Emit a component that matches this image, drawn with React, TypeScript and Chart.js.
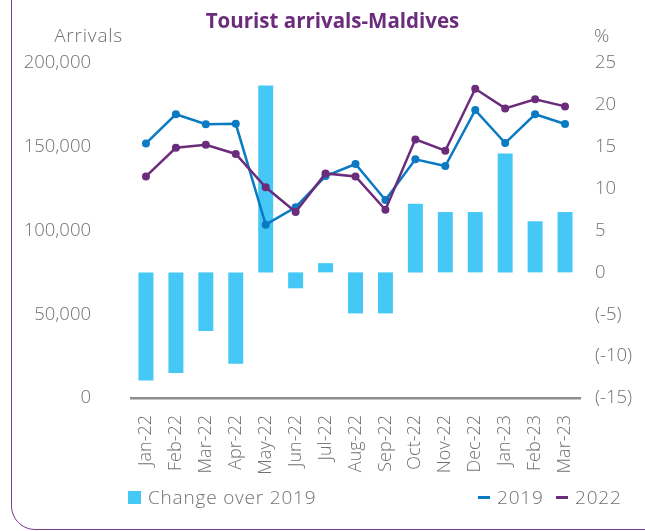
import React, { useEffect, useRef } from "react";
import { Chart, registerables } from "chart.js";
Chart.register(...registerables);

const categories = ["Jan-22", "Feb-22", "Mar-22", "Apr-22", "May-22", "Jun-22", "Jul-22", "Aug-22", "Sep-22", "Oct-22", "Nov-22", "Dec-22", "Jan-23", "Feb-23", "Mar-23"];
const changeOver2019 = [-12.9, -12.0, -7.0, -10.9, 22.3, -1.9, 1.1, -4.9, -4.9, 8.2, 7.2, 7.2, 14.2, 6.1, 7.2];
const arrivals2019 = [152000, 169400, 163400, 163700, 103500, 113900, 132500, 139700, 118200, 142500, 138500, 171900, 152200, 169400, 163600];
const arrivals2022 = [132300, 149400, 151200, 145700, 125800, 111000, 134100, 132300, 112400, 154400, 147600, 184600, 172900, 178300, 174100];
const leftTickValues = [0, 50000, 100000, 150000, 200000];
const rightTickValues = [-15, -10, -5, 0, 5, 10, 15, 20, 25];

const FONT = "'Open Sans', sans-serif";
const GREY = "#707070";
const CYAN = "#45c8f5";
const BLUE = "#0a7ac2";
const PURPLE = "#6b2c7c";

export default function App() {
  const ref = useRef<HTMLCanvasElement | null>(null);
  useEffect(() => {
    if (!ref.current) return;
    const chart = new Chart(ref.current, {
      type: "bar",
      data: {
        labels: categories,
        datasets: [
          {
            type: "line",
            label: "2019",
            data: arrivals2019,
            yAxisID: "y",
            borderColor: BLUE,
            backgroundColor: BLUE,
            borderWidth: 2.5,
            pointRadius: 4,
            pointBackgroundColor: BLUE,
            pointBorderWidth: 0,
            order: 1,
          },
          {
            type: "line",
            label: "2022",
            data: arrivals2022,
            yAxisID: "y",
            borderColor: PURPLE,
            backgroundColor: PURPLE,
            borderWidth: 2.5,
            pointRadius: 4,
            pointBackgroundColor: PURPLE,
            pointBorderWidth: 0,
            order: 0,
          },
          {
            type: "bar",
            label: "Change over 2019",
            data: changeOver2019,
            yAxisID: "y1",
            backgroundColor: CYAN,
            barPercentage: 0.5,
            categoryPercentage: 1,
            order: 2,
          },
        ],
      },
      options: {
        responsive: false,
        animation: false,
        devicePixelRatio: 1,
        layout: { padding: { top: 63, left: 0, right: 0, bottom: 0 } },
        plugins: { legend: { display: false }, title: { display: false }, tooltip: { enabled: false } },
        scales: {
          x: {
            type: "category",
            offset: true,
            grid: { display: false },
            border: { display: true, color: "#8c8c8c", width: 2.5 },
            ticks: {
              color: GREY,
              font: { family: FONT, size: 18, weight: "300" },
              minRotation: 90,
              maxRotation: 90,
              padding: 9,
              autoSkip: false,
            },
            afterFit: (s: any) => { s.height = 133; },
          },
          y: {
            position: "left",
            min: 0,
            max: 200000,
            grid: { display: false },
            border: { display: false },
            afterBuildTicks: (s: any) => { s.ticks = leftTickValues.map((v) => ({ value: v })); },
            ticks: {
              color: GREY,
              font: { family: FONT, size: 18.5, weight: "300" },
              padding: 32,
              callback: (v: any) => Number(v).toLocaleString("en-US"),
            },
            afterFit: (s: any) => { s.width = 131; },
          },
          y1: {
            position: "right",
            min: -15,
            max: 25,
            grid: { display: false },
            border: { display: false },
            afterBuildTicks: (s: any) => { s.ticks = rightTickValues.map((v) => ({ value: v })); },
            ticks: {
              color: GREY,
              font: { family: FONT, size: 18.5, weight: "300" },
              padding: 7,
              callback: (v: any) => (Number(v) < 0 ? `(${v})` : `${v}`),
            },
            afterFit: (s: any) => { s.width = 65; },
          },
        },
      },
    });
    return () => chart.destroy();
  }, []);

  const text: React.CSSProperties = { position: "absolute", fontFamily: FONT, fontWeight: 300, color: GREY, fontSize: 19, lineHeight: "20px", whiteSpace: "nowrap", letterSpacing: 0.8 };

  return (
    <div style={{ position: "absolute", left: 0, top: 0, width: 645, height: 531, overflow: "hidden", background: "#fff" }}>
      <div style={{ position: "absolute", left: 11, top: -60, width: 700, height: 590, border: "1.5px solid #7a3b8a", borderRadius: 24, boxSizing: "border-box" }} />
      <canvas ref={ref} width={645} height={531} style={{ position: "absolute", left: 0, top: 0, width: 645, height: 531 }} />
      <div style={{ ...text, left: 0, width: 645, top: 10, textAlign: "center", paddingLeft: 20, boxSizing: "border-box", fontWeight: 700, color: PURPLE, fontSize: 20.5, letterSpacing: 0 }}>Tourist arrivals-Maldives</div>
      <div style={{ ...text, right: 645 - 123, top: 25 }}>Arrivals</div>
      <div style={{ ...text, left: 594, top: 25 }}>%</div>
      <div style={{ position: "absolute", left: 128, top: 491, width: 13, height: 13, background: CYAN }} />
      <div style={{ ...text, left: 148, top: 487 }}>Change over 2019</div>
      <div style={{ position: "absolute", left: 478, top: 496, width: 12, height: 2.5, background: BLUE }} />
      <div style={{ ...text, left: 497, top: 487 }}>2019</div>
      <div style={{ position: "absolute", left: 556, top: 496, width: 12, height: 2.5, background: PURPLE }} />
      <div style={{ ...text, left: 575, top: 487 }}>2022</div>
    </div>
  );
}
